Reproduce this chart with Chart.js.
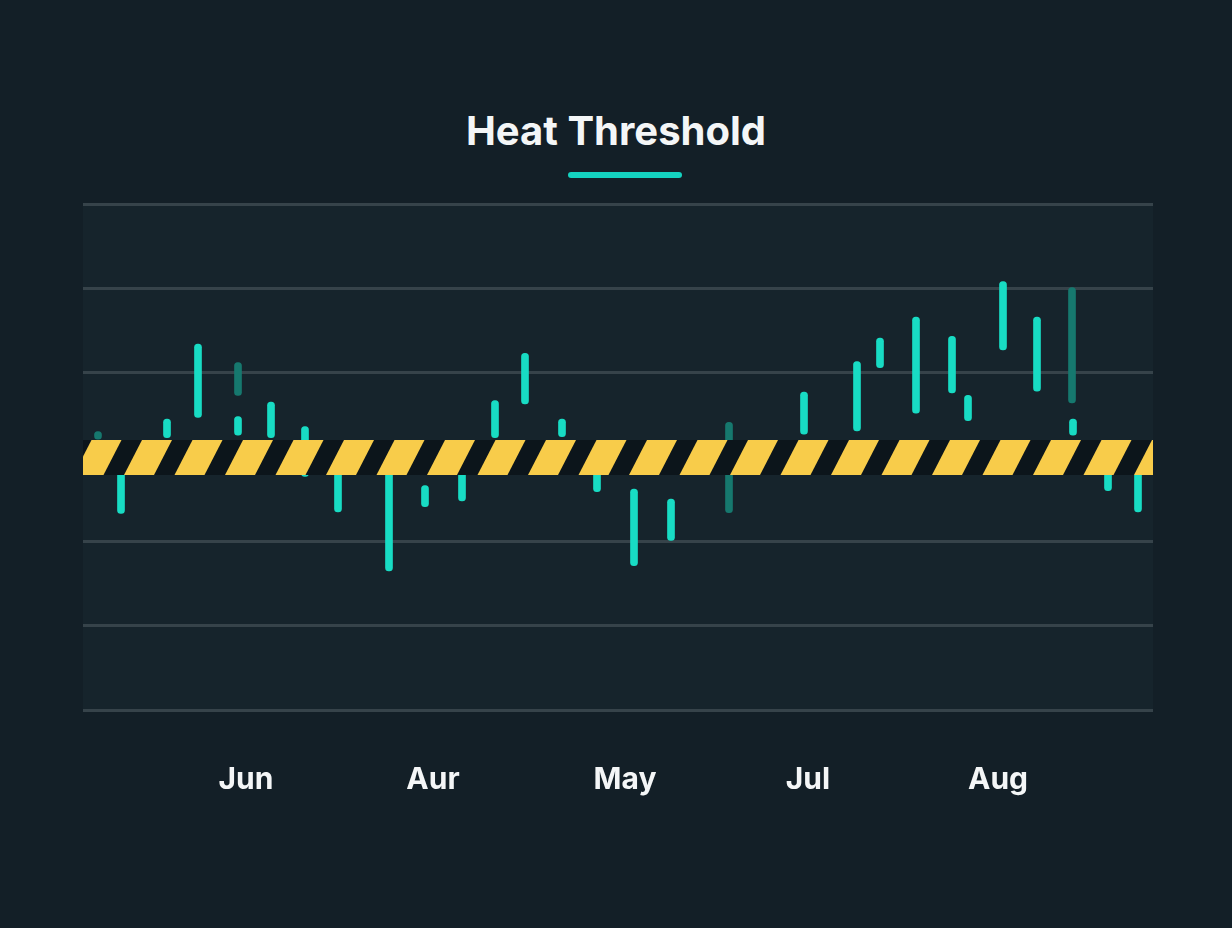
<!DOCTYPE html>
<html>
<head>
<meta charset="utf-8">
<script src="https://cdn.jsdelivr.net/npm/chart.js@4"></script>
<style>
    html, body { margin: 0; padding: 0; background: #131f27; }
    #wrap { position: relative; width: 1232px; height: 928px; }
    #title { position: absolute; top: 106px; left: 0; width: 1232px; text-align: center;
        font: bold 40px 'Inter', sans-serif; color: #f4f6f7; }
    #rule { position: absolute; top: 172px; left: 568px; width: 114px; height: 6px;
        border-radius: 3px; background: #14d3c0; }
    canvas { position: absolute; top: 0; left: 0; }
</style>
</head>
<body>
<div id="wrap">
    <div id="title">Heat Threshold</div>
    <div id="rule"></div>
    <canvas id="chart" width="1232" height="928"></canvas>
</div>
<script>
// day position along the season, low / high reading, faded flag
const days  = [1.5, 3.8, 8.4, 11.5, 15.5, 15.5, 18.8, 22.2, 25.5, 30.6, 34.2, 37.9, 41.2, 44.2, 47.9, 51.4, 55.1, 58.8, 64.6, 72.1, 77.4, 79.7, 83.3, 86.9, 88.5, 92.0, 95.4, 98.9, 99.0, 102.5, 105.5];
const lows  = [3.21, 2.33, 3.23, 3.47, 3.73, 3.26, 3.23, 2.77, 2.35, 1.65, 2.41, 2.48, 3.23, 3.63, 3.24, 2.59, 1.71, 2.01, 2.34, 3.27, 3.31, 4.06, 3.52, 3.76, 3.43, 4.27, 3.78, 3.64, 3.26, 2.60, 2.35];
const highs = [3.30, 2.83, 3.45, 4.34, 4.12, 3.48, 3.65, 3.36, 2.83, 2.83, 2.66, 2.83, 3.67, 4.23, 3.45, 2.83, 2.62, 2.50, 3.41, 3.77, 4.13, 4.41, 4.66, 4.43, 3.73, 5.08, 4.66, 5.01, 3.45, 2.83, 2.83];
const faded = [1, 0, 0, 0, 1, 0, 0, 0, 0, 0, 0, 0, 0, 0, 0, 0, 0, 0, 1, 0, 0, 0, 0, 0, 0, 0, 0, 1, 0, 0, 0];
const monthLabels = ['Jun', 'Aur', 'May', 'Jul', 'Aug'];
const monthPos = [16.3, 35.0, 54.2, 72.5, 91.5];
const threshold = 3;

const colors = {
    teal: '#18dcc4',
    tealFaded: '#16786e',
    plotBg: '#16242c',
    grid: '#36434a',
    yellow: '#f8cc4a',
    black: '#0c151b'
};

const hazard = {
    id: 'hazard',
    beforeDraw(chart) {
        const { ctx, chartArea: a } = chart;
        ctx.save();
        ctx.fillStyle = colors.plotBg;
        ctx.fillRect(a.left, a.top, a.right - a.left, a.bottom - a.top);
        ctx.restore();
    },
    afterDatasetsDraw(chart) {
        const { ctx, chartArea: a, scales } = chart;
        const yc = scales.y.getPixelForValue(threshold);
        const top = yc - 17, h = 35;
        ctx.save();
        ctx.beginPath();
        ctx.rect(a.left, top, a.right - a.left, h);
        ctx.clip();
        ctx.fillStyle = colors.black;
        ctx.fillRect(a.left, top, a.right - a.left, h);
        ctx.fillStyle = colors.yellow;
        for (let x = a.left - 60; x < a.right + 60; x += 50.5) {
            ctx.beginPath();
            ctx.moveTo(x + 18, top);
            ctx.lineTo(x + 48, top);
            ctx.lineTo(x + 30, top + h);
            ctx.lineTo(x, top + h);
            ctx.closePath();
            ctx.fill();
        }
        ctx.restore();
    }
};

new Chart(document.getElementById('chart'), {
    type: 'bar',
    data: {
        datasets: [{
            data: days.map((d, i) => ({ x: d, y: [lows[i], highs[i]] })),
            backgroundColor: faded.map(f => f ? colors.tealFaded : colors.teal),
            barThickness: 7,
            borderRadius: 4,
            borderSkipped: false
        }]
    },
    options: {
        responsive: false,
        animation: false,
        layout: { padding: { left: 83, right: 79, top: 204, bottom: 86 } },
        plugins: { legend: { display: false }, tooltip: { enabled: false } },
        scales: {
            x: {
                type: 'linear', min: 0, max: 107, offset: false,
                grid: { display: false },
                border: { display: false },
                afterBuildTicks: s => { s.ticks = monthPos.map(v => ({ value: v })); },
                ticks: {
                    padding: 44,
                    color: '#f4f6f7',
                    font: { family: 'Inter', size: 30, weight: 'bold' },
                    callback: (v, i) => monthLabels[i]
                }
            },
            y: {
                min: 0, max: 6,
                afterBuildTicks: s => { s.ticks = [0, 1, 2, 3, 4, 5, 6].map(v => ({ value: v })); },
                ticks: { display: false },
                border: { display: false },
                grid: { color: colors.grid, lineWidth: 3, drawTicks: false }
            }
        }
    },
    plugins: [hazard]
});
</script>
</body>
</html>
